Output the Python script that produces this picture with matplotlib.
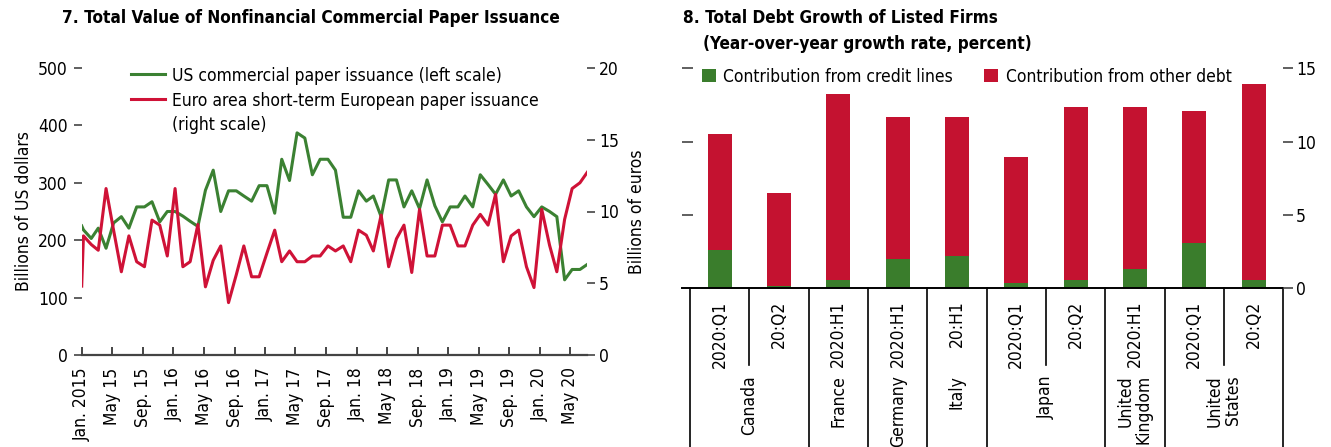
import matplotlib
matplotlib.use('Agg')
import matplotlib.pyplot as plt
import matplotlib.transforms as mtransforms
from matplotlib import font_manager
from matplotlib.lines import Line2D
import numpy as np
import pandas as pd

# pick the narrowest sans available (reference uses a condensed face)
_fonts = font_manager.fontManager.ttflist
_names = {f.name for f in _fonts}
if 'Liberation Sans Narrow' in _names:
    plt.rcParams['font.family'] = ['Liberation Sans Narrow', 'DejaVu Sans']
elif any(f.name == 'DejaVu Sans' and f.stretch == 'condensed' for f in _fonts):
    plt.rcParams['font.family'] = ['DejaVu Sans']
    plt.rcParams['font.stretch'] = 'condensed'
else:
    plt.rcParams['font.family'] = ['Liberation Sans', 'DejaVu Sans']
plt.rcParams['font.size'] = 12.5

LINE_GREEN = '#3b8132'
LINE_RED = '#cf1237'
BAR_GREEN = '#3a7d2c'
BAR_RED = '#c41230'
AX_COLOR = '#444444'

# ========== chart 7: monthly issuance, Jan 2015 - Jul 2020 ==========
months = pd.date_range('2015-01-01', periods=67, freq='MS')
us_cp = [218, 203, 221, 186, 230, 241, 221, 258, 258, 267, 232, 250,
         250, 242, 233, 224, 287, 322, 250, 286, 286, 277, 268, 295,
         295, 247, 341, 304, 387, 378, 314, 341, 341, 322, 240, 240,
         286, 268, 277, 241, 305, 305, 258, 286, 255, 305, 260, 232,
         258, 258, 277, 258, 314, 297, 280, 305, 277, 286, 258, 241,
         258, 250, 241, 131, 149, 149, 158]            # billions of US dollars
euro_step = [8.3, 7.7, 7.3, 11.6, 8.7, 5.8, 8.3, 6.5, 6.15, 9.4, 9.05, 6.9,
             11.6, 6.15, 6.5, 9.1, 4.75, 6.6, 7.6, 3.65, 5.6, 7.6, 5.45, 5.45,
             7.1, 8.7, 6.5, 7.25, 6.5, 6.5, 6.9, 6.9, 7.6, 7.25, 7.6, 6.5,
             8.7, 8.35, 7.25, 9.75, 6.15, 8.1, 9.05, 5.75, 10.15, 6.9, 6.9, 9.05,
             9.05, 7.6, 7.6, 9.05, 9.8, 9.05, 11.2, 6.5, 8.3, 8.7, 6.15, 4.7,
             10.15, 7.65, 5.8, 9.45, 11.6, 12.0, 12.75]  # billions of euros
# where each line enters at the left edge of the plot
us_edge = 225
euro_edge = 4.8

tick_labels = ['Jan. 2015', 'May 15', 'Sep. 15', 'Jan. 16', 'May 16', 'Sep. 16',
               'Jan. 17', 'May 17', 'Sep. 17', 'Jan. 18', 'May 18', 'Sep. 18',
               'Jan. 19', 'May 19', 'Sep. 19', 'Jan. 20', 'May 20']

# ========== chart 8: debt growth of listed firms ==========
countries = ['Canada', 'France', 'Germany', 'Italy', 'Japan',
             'United\nKingdom', 'United\nStates']
periods = [['2020:Q1', '20:Q2'], ['2020:H1'], ['2020:H1'], ['20:H1'],
           ['2020:Q1', '20:Q2'], ['2020:H1'], ['2020:Q1', '20:Q2']]
credit_lines = [2.6, 0.15, 0.6, 2.0, 2.2, 0.35, 0.6, 1.3, 3.1, 0.6]
other_debt = [7.9, 6.35, 12.65, 9.7, 9.5, 8.6, 11.75, 11.05, 9.0, 13.35]

W, H = 1331, 447
fig = plt.figure(figsize=(W / 100, H / 100), dpi=100)


def fx(px):
    return px / W


def fy(py):
    return 1 - py / H


# ---------------- left panel ----------------
ax = fig.add_axes([fx(81.7), fy(355), fx(586.7 - 81.7), fy(68) - fy(355)])
ax2 = ax.twinx()

x_dates = [months[0]] + list(months + pd.Timedelta(days=7))
l1, = ax.plot(x_dates, [us_edge] + us_cp, color=LINE_GREEN, lw=2.2, zorder=3)
l2, = ax2.plot(x_dates, [euro_edge] + euro_step, color=LINE_RED, lw=2.2, zorder=3)

ax.set_xlim(months[0], pd.Timestamp('2020-07-05'))
ax.set_ylim(0, 500)
ax2.set_ylim(0, 20)
ax.set_yticks([0, 100, 200, 300, 400, 500])
ax2.set_yticks([0, 5, 10, 15, 20])
ax.set_xticks(months[::4])
ax.set_xticklabels(tick_labels, rotation=90, va='top', ha='center')

for a in (ax, ax2):
    for s in ('top', 'left', 'right'):
        a.spines[s].set_visible(False)
ax2.spines['bottom'].set_visible(False)
ax.spines['bottom'].set_color(AX_COLOR)
ax.spines['bottom'].set_linewidth(1.6)
ax.tick_params(axis='x', direction='in', length=6, width=1.4, color=AX_COLOR, pad=9)
ax.tick_params(axis='y', direction='out', length=6, width=1.2, color=AX_COLOR, pad=4)
ax2.tick_params(axis='y', direction='out', length=6, width=1.2, color=AX_COLOR, pad=3)

ax.set_ylabel('Billions of US dollars', labelpad=4)
ax2.set_ylabel('Billions of euros', labelpad=6)

# second label wraps; the continuation line gets a blank handle
blank = Line2D([], [], color='none')
ax2.legend([l1, l2, blank],
           ['US commercial paper issuance (left scale)',
            'Euro area short-term European paper issuance', '(right scale)'],
           loc='upper left', bbox_to_anchor=((131 - 81.7) / 505, 1.005),
           frameon=False, borderpad=0, borderaxespad=0, handlelength=1.95,
           handletextpad=0.4, labelspacing=0.4)

fig.text(fx(62), fy(18), '7. Total Value of Nonfinancial Commercial Paper Issuance',
         weight='bold', va='center', ha='left', fontsize=12.3)

# ---------------- right panel ----------------
bx = fig.add_axes([fx(682), fy(288.3), fx(1283.3 - 682), fy(68.3) - fy(288.3)])
bx2 = bx.twinx()
xpos = np.arange(len(credit_lines))
bx.bar(xpos, credit_lines, width=0.4, color=BAR_GREEN, label='Contribution from credit lines')
bx.bar(xpos, other_debt, width=0.4, bottom=credit_lines, color=BAR_RED,
       label='Contribution from other debt')
bx.set_xlim(-0.635, len(credit_lines) - 0.5)
bx.set_ylim(0, 15)
bx2.set_ylim(0, 15)
bx.set_yticks([5, 10, 15])
bx.set_xticks([])
bx2.set_yticks([0, 5, 10, 15])
for a in (bx, bx2):
    for s in ('top', 'left', 'right'):
        a.spines[s].set_visible(False)
bx2.spines['bottom'].set_visible(False)
bx.spines['bottom'].set_color('black')
bx.spines['bottom'].set_linewidth(1.4)
bx.tick_params(axis='y', direction='in', length=8, width=1.2, color=AX_COLOR, labelleft=False)
bx2.tick_params(axis='y', direction='out', length=7, width=1.2, color=AX_COLOR, pad=2)

# category labels under the bars
trans = mtransforms.blended_transform_factory(bx.transData, bx.transAxes)
sep_kw = dict(color='black', lw=1.2, transform=trans, clip_on=False)
i = 0
long_end = (288.3 - 447) / 220
short_end = (288.3 - 365) / 220
bx.plot([i - 0.5, i - 0.5], [0, long_end], **sep_kw)
for name, per in zip(countries, periods):
    for j, p in enumerate(per):
        bx.text(i + j, -0.055, p, rotation=90, ha='center', va='top', transform=trans)
        if j > 0:
            bx.plot([i + j - 0.5, i + j - 0.5], [0, short_end], **sep_kw)
    cx = i + (len(per) - 1) / 2
    bx.text(cx, -0.395, name, rotation=90, ha='center', va='top',
            multialignment='right', transform=trans, linespacing=1.0)
    i += len(per)
    bx.plot([i - 0.5, i - 0.5], [0, long_end], **sep_kw)

bx.legend(loc='upper left', bbox_to_anchor=((701.7 - 682) / 601.3, 1.003), ncol=2,
          frameon=False, borderpad=0, borderaxespad=0, handlelength=0.8,
          handleheight=0.8, handletextpad=0.45, columnspacing=1.8)

fig.text(fx(683), fy(18), '8. Total Debt Growth of Listed Firms',
         weight='bold', va='center', ha='left', fontsize=12.3)
fig.text(fx(703), fy(44), '(Year-over-year growth rate, percent)',
         weight='bold', va='center', ha='left', fontsize=12.3)

fig.savefig('out.png', dpi=100)
